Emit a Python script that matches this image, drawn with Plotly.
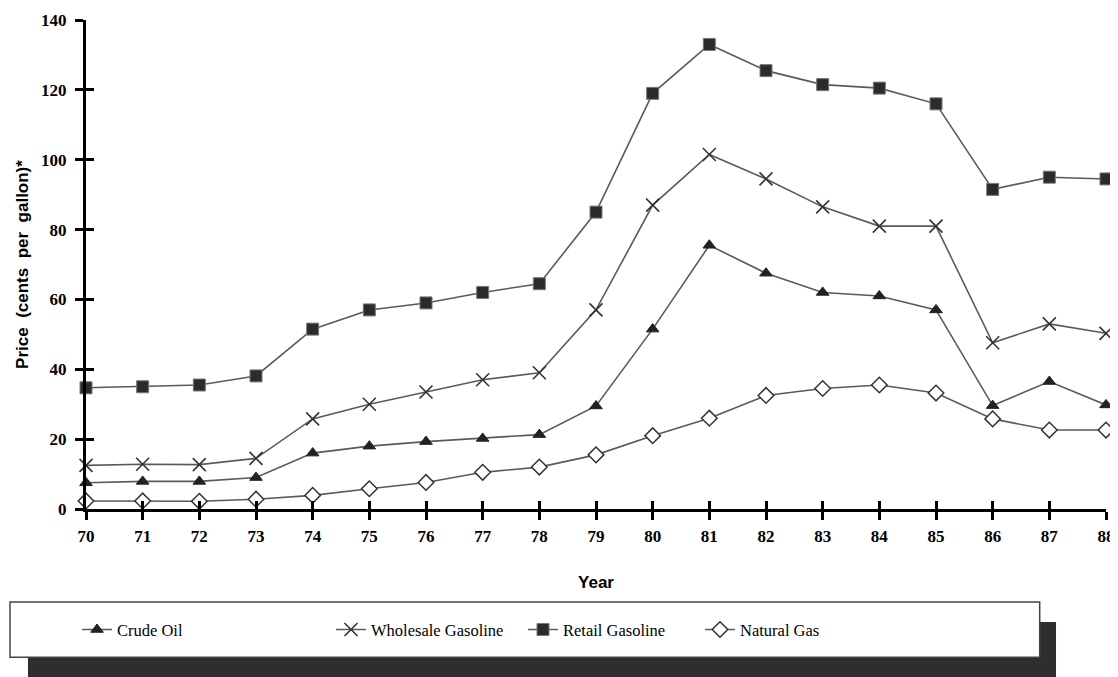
import plotly.graph_objects as go

years = list(range(70, 89))
year_labels = [str(y) for y in years]
crude_oil = [7.5, 7.9, 7.9, 9.0, 16.0, 18.0, 19.3, 20.2, 21.3, 29.5, 51.5, 75.5, 67.5, 62.0, 61.0, 57.0, 29.6, 36.5, 29.8]
wholesale = [12.5, 12.8, 12.7, 14.5, 25.8, 30.0, 33.5, 37.0, 39.0, 57.0, 87.0, 101.5, 94.5, 86.5, 81.0, 81.0, 47.6, 53.0, 50.3]
retail = [34.7, 35.0, 35.5, 38.1, 51.5, 57.0, 59.0, 62.0, 64.5, 85.0, 119.0, 133.0, 125.5, 121.5, 120.5, 116.0, 91.5, 95.0, 94.5]
natural_gas = [2.3, 2.3, 2.2, 2.8, 3.9, 5.8, 7.6, 10.5, 12.0, 15.5, 21.0, 26.0, 32.5, 34.5, 35.5, 33.2, 25.8, 22.6, 22.6]
y_ticks = [0, 20, 40, 60, 80, 100, 120, 140]

LINE = dict(color="#5a5a5a", width=1.6)

fig = go.Figure()
fig.add_trace(go.Scatter(x=years, y=crude_oil, name="Crude Oil", mode="lines+markers",
                         line=LINE, cliponaxis=False, legend="legend",
                         marker=dict(symbol="triangle-up", size=11, color="#222222",
                                     line=dict(color="#222222", width=1))))
fig.add_trace(go.Scatter(x=years, y=wholesale, name="Wholesale Gasoline", mode="lines+markers",
                         line=LINE, cliponaxis=False, legend="legend2",
                         marker=dict(symbol="x-thin-open", size=13, color="#333333",
                                     line=dict(color="#333333", width=1.6))))
fig.add_trace(go.Scatter(x=years, y=retail, name="Retail Gasoline", mode="lines+markers",
                         line=LINE, cliponaxis=False, legend="legend3",
                         marker=dict(symbol="square", size=12, color="#2b2b2b",
                                     line=dict(color="#777777", width=1))))
fig.add_trace(go.Scatter(x=years, y=natural_gas, name="Natural Gas", mode="lines+markers",
                         line=LINE, cliponaxis=False, legend="legend4",
                         marker=dict(symbol="diamond", size=12, color="white",
                                     line=dict(color="#333333", width=1.5))))
# invisible trace carrying the overlay axes (inner half of crossing ticks)
fig.add_trace(go.Scatter(x=[None], y=[None], xaxis="x2", yaxis="y2", showlegend=False,
                         hoverinfo="skip"))

tick_font = dict(family="Liberation Serif", size=17, color="black", weight="bold")
title_font = dict(family="Liberation Sans", size=17, color="black", weight="bold")

# page body has an 8px margin, so the figure is offset by 8px from the window corner
fig.update_layout(
    width=1110, height=669,
    margin=dict(l=78, r=12, t=12, b=168),
    paper_bgcolor="white", plot_bgcolor="white",
    xaxis=dict(range=[70, 88], tickmode="array", tickvals=years, ticktext=year_labels,
               automargin=False, ticklabeloverflow="allow",
               showgrid=False, zeroline=False, showline=True, linecolor="black", linewidth=3,
               ticks="outside", ticklen=8, tickwidth=2.5, tickcolor="black",
               tickfont=tick_font, ticklabelstandoff=2,
               title=dict(text="Year", font=title_font, standoff=31)),
    yaxis=dict(range=[0, 140], tickmode="array", tickvals=y_ticks, automargin=False,
               ticklabeloverflow="allow",
               showgrid=False, zeroline=False, showline=True, linecolor="black", linewidth=3,
               ticks="outside", ticklen=8, tickwidth=2.5, tickcolor="black",
               tickfont=tick_font, ticklabelstandoff=5,
               title=dict(text="Price&nbsp; (cents&nbsp; per&nbsp; gallon)*", font=title_font,
                          standoff=9)),
    xaxis2=dict(range=[70, 88], overlaying="x", tickmode="array", tickvals=years,
                showticklabels=False, showgrid=False, zeroline=False, showline=False,
                ticks="inside", ticklen=8, tickwidth=2.5, tickcolor="black", automargin=False),
    yaxis2=dict(range=[0, 140], overlaying="y", tickmode="array", tickvals=y_ticks,
                showticklabels=False, showgrid=False, zeroline=False, showline=False,
                ticks="inside", ticklen=8, tickwidth=2.5, tickcolor="black", automargin=False),
    shapes=[
        dict(type="rect", xref="paper", yref="paper", x0=-0.0569, x1=0.951, y0=-0.37, y1=-0.231,
             fillcolor="#2e2e2e", line=dict(width=0), layer="above"),
        dict(type="rect", xref="paper", yref="paper", x0=-0.0745, x1=0.935, y0=-0.303, y1=-0.190,
             fillcolor="white", line=dict(color="#444444", width=1.5), layer="above"),
    ],
)

leg_common = dict(orientation="h", yanchor="middle", y=-0.247, xanchor="left",
                  bgcolor="rgba(0,0,0,0)", borderwidth=0,
                  font=dict(family="Liberation Serif", size=16.5, color="black"))
fig.update_layout(
    legend=dict(x=(77 - 86) / 1020, **leg_common),
    legend2=dict(x=(331 - 86) / 1020, **leg_common),
    legend3=dict(x=(523 - 86) / 1020, **leg_common),
    legend4=dict(x=(700 - 86) / 1020, **leg_common),
)

fig.write_html("out.html")
